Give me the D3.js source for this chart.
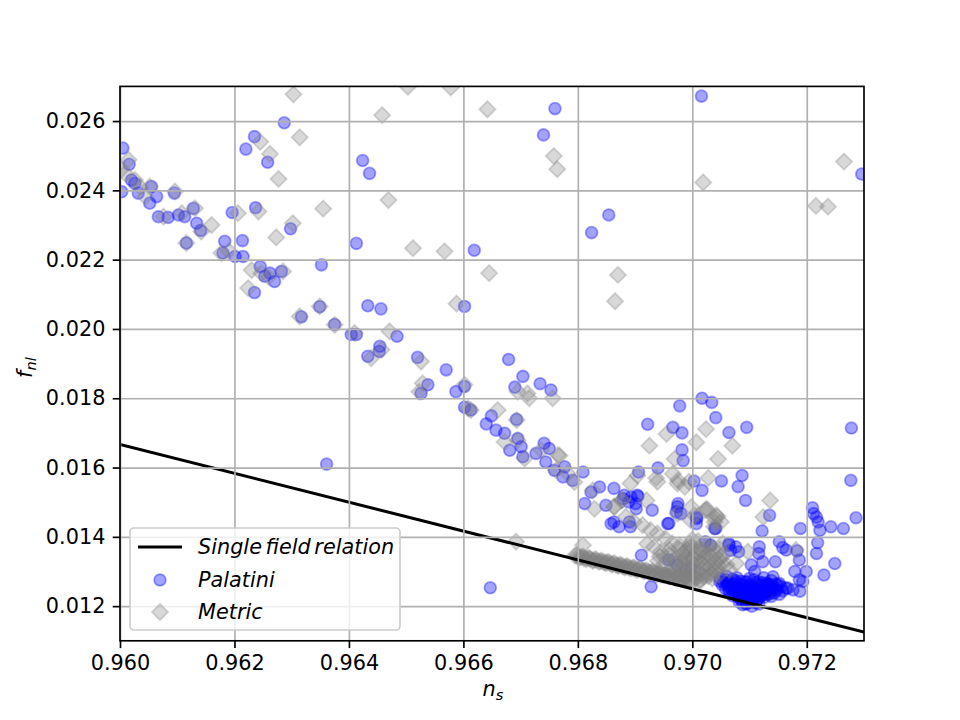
<!DOCTYPE html>
<html>
<head>
<meta charset="utf-8">
<script src="https://cdn.jsdelivr.net/npm/d3@7"></script>
<style>
body { margin: 0; background: #fff; }
text { font-family: "DejaVu Sans", sans-serif; }
</style>
</head>
<body>
<script>
// tick values
var xTickValues = [0.960, 0.962, 0.964, 0.966, 0.968, 0.970, 0.972];
var yTickValues = [0.012, 0.014, 0.016, 0.018, 0.020, 0.022, 0.024, 0.026];

// single field relation f_nl = 5/12 (1 - n_s), end points
var singleFieldNs = [0.960, 0.973];
var singleFieldFnl = [0.016667, 0.011250];

// Palatini points [n_s, f_nl]
var palatiniPoints = [
  [0.96005,0.02522],[0.96016,0.02475],[0.96003,0.02396],[0.9602,0.0243],[0.96026,0.0242],[0.96032,0.02392],
  [0.96052,0.02363],[0.96055,0.02411],[0.96064,0.02382],[0.96067,0.02324],[0.96084,0.02322],[0.96095,0.02392],
  [0.96102,0.02329],[0.96113,0.02324],[0.96128,0.02348],[0.96134,0.02305],[0.96141,0.02284],[0.96116,0.02248],
  [0.96183,0.02253],[0.96214,0.02255],[0.9618,0.02219],[0.96201,0.02209],[0.96215,0.02209],[0.96245,0.0218],
  [0.96253,0.02152],[0.96262,0.02161],[0.9627,0.02137],[0.96282,0.02166],[0.96317,0.02035],[0.96349,0.02064],
  [0.96375,0.02013],[0.96404,0.01984],[0.96413,0.01984],
  [0.96287,0.02595],[0.96235,0.02555],[0.9622,0.02519],[0.96258,0.02481],[0.96424,0.02486],[0.96436,0.02449],
  [0.96196,0.02336],[0.96237,0.0235],[0.96298,0.02289],[0.96413,0.02247],[0.96352,0.02185],[0.96235,0.02105],
  [0.96433,0.02067],[0.9676,0.02636],[0.9674,0.0256],[0.96854,0.02329],[0.96824,0.02278],[0.96619,0.02227],
  [0.96602,0.02065],[0.96456,0.02058],[0.96484,0.01979],[0.96454,0.0195],[0.9652,0.01918],[0.96679,0.01912],
  [0.97016,0.02672],[0.97296,0.02447],[0.96361,0.0161],[0.96647,0.01253],
  [0.96433,0.01921],[0.96453,0.01935],[0.9657,0.01882],[0.96526,0.01814],[0.96538,0.01839],[0.96587,0.01819],
  [0.96602,0.01834],[0.96602,0.01774],[0.96613,0.01766],[0.96704,0.01863],[0.9669,0.01832],[0.96734,0.01842],
  [0.96753,0.01824],[0.96649,0.01749],[0.96693,0.01739],[0.9664,0.01726],[0.96657,0.01708],[0.96672,0.01699],
  [0.96695,0.01684],[0.96701,0.0166],[0.96681,0.0165],[0.96704,0.01631],[0.96727,0.01641],[0.96741,0.0167],
  [0.9675,0.01655],[0.96744,0.01616],[0.96759,0.01592],[0.96777,0.01602],[0.96774,0.01573],[0.96791,0.01563],
  [0.96809,0.01587],[0.96812,0.01496],
  [0.96978,0.01778],[0.96922,0.01725],[0.96966,0.01716],[0.96982,0.017],[0.96982,0.01651],[0.96984,0.0162],
  [0.9694,0.01599],[0.96906,0.01587],[0.97003,0.01561],[0.97017,0.01534],[0.96838,0.01544],[0.96823,0.01529],
  [0.96849,0.01491],[0.96879,0.0151],[0.96893,0.01515],[0.96905,0.01517],[0.96902,0.01481],[0.96858,0.01438],
  [0.9689,0.01443],[0.9693,0.01477],[0.96975,0.01496],[0.96972,0.01472],[0.96957,0.01438],[0.97007,0.01457],
  [0.97007,0.01438],[0.96911,0.01347],[0.96928,0.01256],
  [0.97017,0.018],[0.97034,0.01788],[0.97041,0.01744],[0.97064,0.01701],[0.97095,0.01716],[0.97278,0.01714],
  [0.97277,0.01563],[0.97051,0.01561],[0.9708,0.01545],[0.97087,0.01577],[0.97093,0.01505],[0.9721,0.01484],
  [0.97212,0.01467],[0.97217,0.01457],[0.9722,0.01443],[0.97223,0.01419],[0.97135,0.01462],[0.97122,0.01417],
  [0.97189,0.01424],[0.97242,0.01429],[0.97264,0.01424],[0.97286,0.01455],[0.97219,0.01383],[0.97217,0.01352],
  [0.97249,0.01323],[0.9723,0.0129],[0.97152,0.01386],[0.97158,0.01369],[0.97164,0.01362],[0.97183,0.0136],
  [0.97187,0.01333],[0.97179,0.013],[0.97193,0.01271],[0.97199,0.013],
  [0.97039,0.01424],[0.97064,0.01376],[0.97081,0.01357],[0.97117,0.01371],[0.97116,0.01352],[0.97145,0.01328],
  [0.97103,0.01319],[0.97109,0.013],[0.97123,0.01328],[0.97141,0.01285],[0.97152,0.01266],[0.97164,0.01252],
  [0.97176,0.01247],[0.97187,0.01276],[0.97167,0.01252],[0.97188,0.01243],[0.97132,0.01264],
  [0.96863,0.0154],[0.96881,0.0152],[0.96904,0.0152],[0.96901,0.01496],[0.96889,0.01501],[0.96974,0.01487],
  [0.96959,0.01439],[0.9698,0.01467],[0.97008,0.01453],[0.97041,0.01424],[0.97023,0.01386],[0.97032,0.01376],
  [0.97064,0.01381],[0.97076,0.01371],[0.97067,0.01361],[0.96892,0.01429],[0.96863,0.01443],[0.96872,0.01429],
  [0.96959,0.01333],[0.96974,0.01318],[0.96997,0.01308]
];

// dense Palatini clump near n_s = 0.971
var palatiniCore = [
  [0.97055,0.01268],[0.97062,0.01258],[0.97068,0.0125],[0.97072,0.01262],[0.97078,0.01244],[0.9708,0.01232],
  [0.97083,0.01222],[0.97086,0.01238],[0.97088,0.01252],[0.9709,0.01228],[0.97093,0.01218],[0.97095,0.0124],
  [0.97097,0.0123],[0.97099,0.01258],[0.97101,0.01224],[0.97103,0.01246],[0.97105,0.01234],[0.97107,0.0122],
  [0.9711,0.0125],[0.97112,0.01238],[0.97115,0.01228],[0.97118,0.01262],[0.9712,0.01244],[0.97123,0.01232],
  [0.97126,0.01254],[0.97129,0.0124],[0.97133,0.01248],[0.97136,0.01236],[0.9714,0.01258],[0.97075,0.01274],
  [0.97092,0.0127],[0.97108,0.01276],[0.97066,0.0124],[0.97084,0.01262],[0.971,0.01214],[0.97116,0.0127],
  [0.9713,0.01266],[0.97145,0.0125],[0.9715,0.01262],[0.97158,0.01244],[0.97049,0.0128],[0.9706,0.01286],
  [0.97125,0.01282],[0.97138,0.01274],[0.97082,0.01212],[0.97095,0.01208],[0.97112,0.01216],[0.9707,0.0123],
  [0.97048,0.01272],[0.97052,0.01262],[0.97058,0.01276],[0.97058,0.0125],[0.97064,0.01266],[0.97064,0.01244],
  [0.9707,0.01278],[0.9707,0.01256],[0.97074,0.01236],[0.97076,0.01268],[0.97079,0.01252],[0.97081,0.01226],
  [0.97085,0.01272],[0.97085,0.01246],[0.97087,0.01216],[0.9709,0.0126],[0.97091,0.01236],[0.97094,0.01206],
  [0.97096,0.0127],[0.97096,0.0125],[0.97098,0.01222],[0.97102,0.01262],[0.97102,0.01238],[0.97104,0.01212],
  [0.97106,0.01254],[0.97108,0.01228],[0.97111,0.01266],[0.97111,0.0121],[0.97113,0.01246],[0.97116,0.01222],
  [0.97118,0.01256],[0.97119,0.01236],[0.97122,0.01268],[0.97124,0.01246],[0.97126,0.01226],[0.97128,0.01258],
  [0.97131,0.01234],[0.97134,0.01262],[0.97135,0.01244],[0.97138,0.01228],[0.97141,0.01252],[0.97143,0.01238],
  [0.97146,0.01264],[0.97148,0.01246],[0.97152,0.01234],[0.97155,0.01256],[0.97078,0.01282],[0.971,0.0128],
  [0.97088,0.01204],[0.97104,0.012],[0.97116,0.01206],[0.9706,0.01268],[0.97073,0.01246],[0.97093,0.01248],
  [0.97109,0.0124],[0.97121,0.0123],[0.97137,0.01254],[0.97083,0.01234],[0.97099,0.01234],[0.97127,0.0124]
];

// Metric points [n_s, f_nl]
var metricPoints = [
  [0.96303,0.02677],[0.96314,0.02553],[0.96245,0.0254],[0.96262,0.02505],[0.96277,0.02433],[0.96355,0.02347],
  [0.96206,0.02334],[0.96242,0.02339],[0.96302,0.02305],[0.96273,0.02264],[0.96224,0.02118],[0.96314,0.02036],
  [0.96349,0.02065],[0.96375,0.02012],[0.9641,0.01988],[0.96177,0.02219],
  [0.96015,0.02488],[0.96009,0.02449],[0.96026,0.0243],[0.96052,0.02411],[0.96096,0.02397],[0.96044,0.02382],
  [0.96076,0.02324],[0.96108,0.02334],[0.96131,0.02348],[0.96142,0.02281],[0.96116,0.02248],[0.96247,0.02161],
  [0.96285,0.02166],[0.96002,0.0246],[0.96035,0.0241],[0.9616,0.023],[0.9619,0.02225],[0.9623,0.0217],[0.9626,0.0215],
  [0.96503,0.02699],[0.96578,0.02697],[0.96458,0.02617],[0.96642,0.02634],[0.96758,0.02499],[0.96764,0.02461],
  [0.96469,0.02372],[0.96512,0.02233],[0.96567,0.02224],[0.96645,0.02161],[0.96588,0.02073],[0.9687,0.02156],
  [0.96865,0.0208],[0.97265,0.02483],[0.97019,0.02423],[0.97216,0.02355],[0.97237,0.02353],
  [0.96471,0.01993],[0.96439,0.01916],[0.96457,0.0194],[0.96526,0.01906],[0.96529,0.01843],[0.96523,0.01819],
  [0.96602,0.01839],[0.96608,0.01771],[0.96613,0.01766],[0.9666,0.01766],[0.96695,0.01819],[0.96712,0.01814],
  [0.96715,0.018],[0.96756,0.018],[0.96693,0.01737],[0.96672,0.01674],[0.96695,0.01679],[0.96707,0.01626],
  [0.96736,0.0165],[0.96765,0.01636],[0.96762,0.01592],[0.96782,0.01583],[0.96794,0.01558],[0.96692,0.01386],
  [0.96925,0.01663],[0.96955,0.01697],[0.97007,0.01673],[0.97024,0.01711],[0.96969,0.01625],[0.96937,0.0157],
  [0.96966,0.01582],[0.96975,0.01563],[0.96987,0.01544],[0.97028,0.0157],[0.96904,0.01577],[0.96768,0.01634],
  [0.96826,0.01534],[0.96829,0.01481],[0.96864,0.01486],[0.96876,0.01505],[0.9692,0.01505],[0.97025,0.01481],
  [0.9704,0.01453],[0.96998,0.01486],[0.96943,0.01343],[0.9696,0.01362],[0.96809,0.01376],
  [0.9707,0.01663],[0.97045,0.01625],[0.97136,0.01505],[0.97124,0.01457],[0.97022,0.01477],[0.97042,0.01462],
  [0.97039,0.01443],[0.97004,0.01462],[0.97181,0.01362],[0.97097,0.01357],[0.97077,0.01323],[0.97065,0.01304],
  [0.97053,0.01381],[0.9703,0.01371],
  [0.96863,0.01487],[0.96878,0.01506],[0.96884,0.01458],[0.96898,0.01443],[0.96913,0.01434],[0.96927,0.01419],
  [0.96939,0.0141],[0.96953,0.01395],[0.96965,0.01381],[0.96977,0.01366],[0.96988,0.01357],[0.97,0.01342],
  [0.97012,0.01328],[0.97023,0.01318],[0.97032,0.01299],[0.96951,0.01342],[0.96968,0.01328],[0.96985,0.01323],
  [0.96991,0.01304],[0.97006,0.01284],[0.97015,0.01275],[0.96945,0.01357],[0.96933,0.01371],[0.96921,0.0138],
  [0.96974,0.01467],[0.96997,0.01448],[0.97026,0.01477],[0.97044,0.01458],[0.9705,0.01443],[0.97038,0.01429],
  [0.96892,0.01554],[0.96939,0.01559],[0.96974,0.01554],[0.96994,0.01559],
  [0.9696,0.01348],[0.9697,0.01338],[0.9698,0.0133],[0.9699,0.0134],[0.96995,0.01318],[0.97003,0.0131],
  [0.9701,0.013],[0.97018,0.01292],[0.97028,0.01286],[0.97035,0.0128],[0.9704,0.013],[0.97045,0.01318],
  [0.9702,0.0134],[0.97008,0.01352],[0.96998,0.01372],[0.97015,0.01362],[0.9703,0.01345],[0.97048,0.01335],
  [0.97055,0.0135],[0.9706,0.0132],[0.96982,0.01295],[0.96965,0.0131],[0.9695,0.0132],[0.9694,0.0133],
  [0.9699,0.01285],[0.97,0.01272],
  [0.96978,0.01375],[0.96983,0.01352],[0.96986,0.01335],[0.96988,0.01312],[0.96992,0.01296],[0.96996,0.0138],
  [0.96998,0.0136],[0.97001,0.01338],[0.97002,0.01322],[0.97004,0.01296],[0.97006,0.01278],[0.9701,0.01388],
  [0.97012,0.01368],[0.97013,0.01346],[0.97016,0.01324],[0.97018,0.01306],[0.9702,0.01284],[0.97024,0.01376],
  [0.97026,0.01354],[0.97028,0.01334],[0.97031,0.01312],[0.97033,0.01294],[0.97036,0.01368],[0.97038,0.01348],
  [0.9704,0.01326],[0.97043,0.01308],[0.97046,0.0129],[0.97048,0.01364],[0.9705,0.01342],[0.97052,0.01322],
  [0.96972,0.01322],[0.96968,0.013],[0.96985,0.0129],[0.97012,0.01274],[0.97,0.01392],[0.9699,0.01365]
];

// tightly packed Metric run just above the single field line
var metricBand = [
  [0.96795,0.01346],[0.968,0.01343],[0.96806,0.01342],[0.96811,0.01339],[0.96817,0.01338],[0.96822,0.01336],
  [0.96828,0.01333],[0.96833,0.01332],[0.96839,0.0133],[0.96845,0.01327],[0.9685,0.01326],[0.96856,0.01324],
  [0.96861,0.01322],[0.96867,0.01319],[0.96872,0.01318],[0.96878,0.01316],[0.96884,0.01313],[0.96889,0.01312],
  [0.96895,0.0131],[0.969,0.01307],[0.96906,0.01306],[0.96912,0.01304],[0.96917,0.01302],[0.96923,0.01299],
  [0.96928,0.01298],[0.96934,0.01296],[0.9694,0.01293],[0.96945,0.01292],[0.96951,0.0129],[0.96956,0.01288],
  [0.96962,0.01286],[0.96968,0.01284],[0.96973,0.01282],[0.96979,0.0128],[0.96985,0.01278],[0.9699,0.01276],
  [0.96996,0.01274],
  [0.96803,0.0134],[0.96814,0.01336],[0.96826,0.01331],[0.96837,0.01328],[0.96848,0.01324],[0.96859,0.0132],
  [0.9687,0.01316],[0.96881,0.01312],[0.96892,0.01309],[0.96903,0.01305],[0.96915,0.01301],[0.96926,0.01297],
  [0.96937,0.01293],[0.96948,0.0129],[0.96959,0.01286],[0.9697,0.01282],[0.96981,0.01278],[0.96993,0.01274],
  [0.96798,0.01347],[0.96809,0.01343],[0.9682,0.01339],[0.96831,0.01336],[0.96842,0.01331],[0.96853,0.01328],
  [0.96864,0.01324],[0.96875,0.0132],[0.96886,0.01316],[0.96898,0.01312],[0.96909,0.01308],[0.9692,0.01304],
  [0.96931,0.013],[0.96942,0.01296],[0.96954,0.01292],[0.96965,0.01289],[0.96976,0.01285],[0.96987,0.01281]
];

var legendLabels = ["Single field relation", "Palatini", "Metric"];

var margin = {top: 86.4, right: 96, bottom: 79.2, left: 120},
    width = 960 - margin.left - margin.right,
    height = 720 - margin.top - margin.bottom;

// 10pt at 150 dpi
var fontSize = 20.8;

var svg = d3.select("body").append("svg")
    .attr("width", 960)
    .attr("height", 720)
    .append("g")
    .attr("transform", "translate(" + margin.left + "," + margin.top + ")");

var xScale = d3.scaleLinear().domain([0.960, 0.973]).range([0, width]);
var yScale = d3.scaleLinear().domain([0.011, 0.027]).range([height, 0]);

svg.append("clipPath").attr("id", "plotClip")
    .append("rect").attr("width", width).attr("height", height);

var plot = svg.append("g").attr("clip-path", "url(#plotClip)");

// Palatini circles
plot.append("g").selectAll("circle")
    .data(palatiniPoints.concat(palatiniCore))
    .enter().append("circle")
    .attr("cx", function(d) { return xScale(d[0]); })
    .attr("cy", function(d) { return yScale(d[1]); })
    .attr("r", 5.9)
    .attr("fill", "#0000ff").attr("fill-opacity", 0.36)
    .attr("stroke", "#0000ff").attr("stroke-opacity", 0.36)
    .attr("stroke-width", 1.8);

// Metric diamonds
var diamond = d3.symbol().type(d3.symbolSquare).size(132);
plot.append("g").selectAll("path")
    .data(metricPoints.concat(metricBand))
    .enter().append("path")
    .attr("d", diamond)
    .attr("transform", function(d) { return "translate(" + xScale(d[0]) + "," + yScale(d[1]) + ") rotate(45)"; })
    .attr("fill", "#808080").attr("fill-opacity", 0.31)
    .attr("stroke", "#808080").attr("stroke-opacity", 0.31)
    .attr("stroke-width", 1.8);

// gridlines (drawn above the scatter like matplotlib)
svg.append("g")
    .attr("class", "grid")
    .attr("transform", "translate(0," + height + ")")
    .call(d3.axisBottom(xScale).tickValues(xTickValues).tickSize(-height).tickFormat(""))
    .call(function(g) { g.select(".domain").remove(); });
svg.append("g")
    .attr("class", "grid")
    .call(d3.axisLeft(yScale).tickValues(yTickValues).tickSize(-width).tickFormat(""))
    .call(function(g) { g.select(".domain").remove(); });
svg.selectAll(".grid line").attr("stroke", "#b0b0b0").attr("stroke-width", 1.67);

// single field relation line
var lineGen = d3.line()
    .x(function(d) { return xScale(d[0]); })
    .y(function(d) { return yScale(d[1]); });
plot.append("path")
    .attr("d", lineGen(d3.zip(singleFieldNs, singleFieldFnl)))
    .attr("stroke", "#000").attr("stroke-width", 3).attr("fill", "none");

// axes
var xAxis = svg.append("g")
    .attr("transform", "translate(0," + height + ")")
    .call(d3.axisBottom(xScale).tickValues(xTickValues).tickFormat(d3.format(".3f"))
        .tickSize(7.3).tickPadding(7.3));
var yAxis = svg.append("g")
    .call(d3.axisLeft(yScale).tickValues(yTickValues).tickFormat(d3.format(".3f"))
        .tickSize(7.3).tickPadding(7.3));
[xAxis, yAxis].forEach(function(ax) {
    ax.select(".domain").remove();
    ax.attr("font-family", "DejaVu Sans").attr("font-size", fontSize);
    ax.selectAll("line").attr("stroke", "#000").attr("stroke-width", 1.67);
    ax.selectAll("text").attr("fill", "#000");
});

// spines
svg.append("rect")
    .attr("width", width).attr("height", height)
    .attr("fill", "none").attr("stroke", "#000").attr("stroke-width", 1.67);

// axis labels
var xLabel = svg.append("text")
    .attr("x", width / 2 + 1).attr("y", height + 55)
    .attr("text-anchor", "middle")
    .attr("font-size", fontSize).attr("font-style", "italic");
xLabel.append("tspan").text("n");
xLabel.append("tspan").attr("dy", 4).attr("font-size", 14.6).text("s");

var yLabel = svg.append("text")
    .attr("transform", "translate(" + (32 - margin.left) + "," + (height / 2 + 4) + ") rotate(-90)")
    .attr("text-anchor", "middle")
    .attr("font-size", fontSize).attr("font-style", "italic");
yLabel.append("tspan").text("f");
yLabel.append("tspan").attr("dy", 4).attr("font-size", 14.6).text("nl");

// legend
var legend = svg.append("g")
    .attr("transform", "translate(" + (130 - margin.left) + "," + (528 - margin.top) + ")");
legend.append("rect")
    .attr("width", 270).attr("height", 102).attr("rx", 4)
    .attr("fill", "#fff").attr("fill-opacity", 0.8)
    .attr("stroke", "#cccccc").attr("stroke-width", 1.67);
legend.append("line")
    .attr("x1", 8).attr("x2", 52).attr("y1", 19).attr("y2", 19)
    .attr("stroke", "#000").attr("stroke-width", 3);
legend.append("circle")
    .attr("cx", 30).attr("cy", 52).attr("r", 5.9)
    .attr("fill", "#0000ff").attr("fill-opacity", 0.36)
    .attr("stroke", "#0000ff").attr("stroke-opacity", 0.36).attr("stroke-width", 1.8);
legend.append("path")
    .attr("d", diamond)
    .attr("transform", "translate(30,84) rotate(45)")
    .attr("fill", "#808080").attr("fill-opacity", 0.31)
    .attr("stroke", "#808080").attr("stroke-opacity", 0.31).attr("stroke-width", 1.8);
legend.selectAll("text.label")
    .data(legendLabels)
    .enter().append("text")
    .attr("class", "label")
    .attr("x", 68)
    .attr("y", function(d, i) { return 19 + i * 32.5; })
    .attr("dy", "0.36em")
    .attr("font-size", fontSize).attr("font-style", "italic")
    .attr("word-spacing", -3)
    .text(function(d) { return d; });
</script>
</body>
</html>
